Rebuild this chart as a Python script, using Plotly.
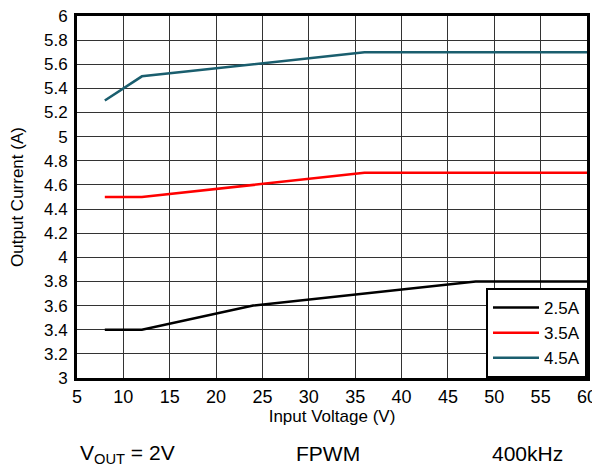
import plotly.graph_objects as go

x_25 = [8, 12, 24, 48, 60]
y_25 = [3.4, 3.4, 3.6, 3.8, 3.8]
x_35 = [8, 12, 36, 60]
y_35 = [4.5, 4.5, 4.7, 4.7]
x_45 = [8, 12, 36, 60]
y_45 = [5.3, 5.5, 5.7, 5.7]

font = "Liberation Sans, Arial, sans-serif"
OFF = 8  # page body margin
W, H = 600 - OFF, 467 - OFF
L, R, T, B = 77 - OFF, 13, 16 - OFF, 89
pw, ph = W - L - R, H - T - B

def px2paper(px, py):
    # px, py in screen pixels
    return (px - OFF - L) / pw, (H - B - (py - OFF)) / ph

fig = go.Figure()
fig.add_trace(go.Scatter(x=x_25, y=y_25, mode="lines", name="2.5A", line=dict(color="black", width=2.5)))
fig.add_trace(go.Scatter(x=x_35, y=y_35, mode="lines", name="3.5A", line=dict(color="red", width=2.5)))
fig.add_trace(go.Scatter(x=x_45, y=y_45, mode="lines", name="4.5A", line=dict(color="#1a5e6e", width=2.5)))

anns = []
for txt, px, py in [("V<sub>OUT</sub> = 2V", 127, 454), ("FPWM", 328, 454), ("400kHz", 527, 454)]:
    ax, ay = px2paper(px, py)
    anns.append(dict(text=txt, x=ax, y=ay, xref="paper", yref="paper", showarrow=False,
                     xanchor="center", yanchor="middle", font=dict(size=21, family=font, color="black")))

fig.update_layout(
    width=W, height=H,
    margin=dict(l=L, r=R, t=T, b=B, autoexpand=False),
    plot_bgcolor="white", paper_bgcolor="white",
    font=dict(family=font, size=17, color="black"),
    showlegend=True,
    legend=dict(x=1, y=0, xanchor="right", yanchor="bottom",
                bgcolor="white", bordercolor="black", borderwidth=2,
                font=dict(size=17), itemwidth=46, tracegroupgap=0),
    xaxis=dict(range=[5, 60], dtick=5, tick0=5, showgrid=True, gridcolor="#333", gridwidth=1,
               showline=True, linecolor="black", linewidth=3, mirror=True, ticks="", automargin=False,
               tickfont=dict(size=18), ticklabeloverflow="allow",
               title=dict(text="Input Voltage (V)", standoff=0, font=dict(size=17)), zeroline=False),
    yaxis=dict(range=[3, 6], dtick=0.2, tick0=3, showgrid=True, gridcolor="#333", gridwidth=1,
               showline=True, linecolor="black", linewidth=3, mirror=True, ticks="", automargin=False,
               tickfont=dict(size=17), ticklabeloverflow="allow", ticklabelstandoff=3,
               title=dict(text="Output Current (A)", standoff=18, font=dict(size=17)), zeroline=False),
    annotations=anns,
)
fig.write_html("out.html")
